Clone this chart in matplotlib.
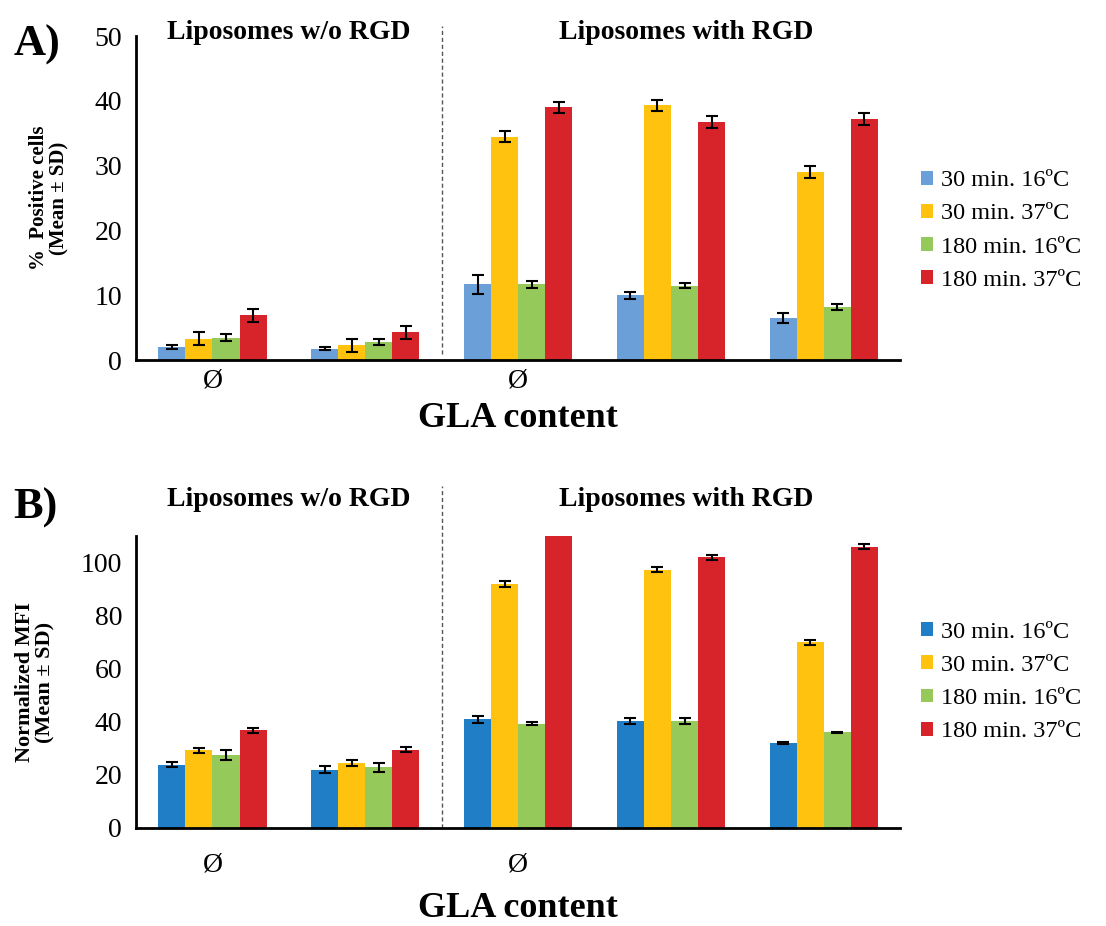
import matplotlib
matplotlib.use("Agg")
import matplotlib.pyplot as plt
import numpy as np

plt.rcParams['font.family'] = ['Liberation Serif', 'DejaVu Serif']

groups = ["Ø", "", "Ø", "", ""]
series = ["30 min. 16ºC", "30 min. 37ºC", "180 min. 16ºC", "180 min. 37ºC"]

# Panel A: % positive cells
a_30_16 = [2.1, 1.8, 11.7, 10.0, 6.5]
a_30_37 = [3.3, 2.3, 34.5, 39.3, 29.0]
a_180_16 = [3.5, 2.8, 11.7, 11.5, 8.2]
a_180_37 = [6.9, 4.3, 39.0, 36.7, 37.2]
a_err_30_16 = [0.3, 0.25, 1.5, 0.5, 0.8]
a_err_30_37 = [1.0, 1.0, 0.9, 0.9, 0.9]
a_err_180_16 = [0.5, 0.5, 0.5, 0.4, 0.4]
a_err_180_37 = [1.0, 1.0, 0.9, 0.9, 0.9]

# Panel B: normalized MFI
b_30_16 = [23.8, 22.0, 41.0, 40.3, 32.0]
b_30_37 = [29.2, 24.5, 92.0, 97.3, 70.0]
b_180_16 = [27.5, 22.8, 39.3, 40.3, 36.0]
b_180_37 = [36.8, 29.5, 115.0, 102.0, 106.0]
b_err_30_16 = [1.0, 1.5, 1.3, 1.0, 0.3]
b_err_30_37 = [1.0, 1.0, 1.0, 1.0, 1.0]
b_err_180_16 = [1.8, 1.8, 0.5, 1.0, 0.2]
b_err_180_37 = [1.0, 1.0, 1.0, 1.0, 1.0]

colors_a = ["#6a9fd8", "#ffc20e", "#95c95a", "#d7242a"]
colors_b = ["#1f7ec6", "#ffc20e", "#95c95a", "#d7242a"]

fig = plt.figure(figsize=(11.06, 9.26), dpi=100)
axA = fig.add_axes([0.123, 0.611, 0.691, 0.350])
axB = fig.add_axes([0.123, 0.106, 0.691, 0.315])

def draw(ax, vals, errs, colors, ylim, yticks, ylabel, ylsize, legy):
    x = np.arange(len(groups))
    w = 0.177
    offs = (np.arange(4) - 1.5) * w
    for i in range(4):
        ax.bar(x + offs[i], vals[i], w, color=colors[i], label=series[i], zorder=2)
        ax.errorbar(x + offs[i], vals[i], yerr=errs[i], fmt='none', ecolor='black',
                    elinewidth=1.5, capsize=4.5, capthick=1.5, zorder=3)
    ax.set_xlim(-0.5, len(groups) - 0.5)
    ax.set_ylim(*ylim)
    ax.set_yticks(yticks)
    ax.set_xticks(x)
    ax.set_xticklabels(groups, fontsize=20)
    for s in ["top", "right"]:
        ax.spines[s].set_visible(False)
    for s in ["left", "bottom"]:
        ax.spines[s].set_linewidth(2)
    ax.tick_params(axis='y', length=0, labelsize=20, pad=10)
    ax.tick_params(axis='x', length=0)
    ax.set_ylabel(ylabel, fontsize=ylsize, fontweight='bold', linespacing=1.05,
                  labelpad=18)
    ax.legend(loc='center left', bbox_to_anchor=(1.005, legy), frameon=False,
              fontsize=17.5, handlelength=0.5, handleheight=0.5,
              handletextpad=0.3, labelspacing=0.5, borderpad=0.2)

draw(axA, [a_30_16, a_30_37, a_180_16, a_180_37],
     [a_err_30_16, a_err_30_37, a_err_180_16, a_err_180_37],
     colors_a, (0, 50), [0, 10, 20, 30, 40, 50], "%  Positive cells\n(Mean ± SD)",
     15, 0.40)
axA.tick_params(axis='x', pad=6)
axA.set_xlabel("GLA content", fontsize=26, fontweight='bold', labelpad=6)

draw(axB, [b_30_16, b_30_37, b_180_16, b_180_37],
     [b_err_30_16, b_err_30_37, b_err_180_16, b_err_180_37],
     colors_b, (0, 110), [0, 20, 40, 60, 80, 100], "Normalized MFI\n(Mean ± SD)",
     16, 0.5)
axB.tick_params(axis='x', pad=18)
axB.set_xlabel("GLA content", fontsize=26, fontweight='bold', labelpad=10)

# dashed separators
axA.plot([1.5, 1.5], [1, 51.5], ls=(0, (3, 2)),
         color='#555555', lw=1, clip_on=False)
axB.plot([1.5, 1.5], [0, 129], ls=(0, (3, 2)),
         color='#555555', lw=1, clip_on=False)

# headers
axA.text(0.5, 50.6, "Liposomes w/o RGD", ha='center', va='center',
         fontsize=20, fontweight='bold')
axA.text(3.1, 50.6, "Liposomes with RGD", ha='center', va='center',
         fontsize=20, fontweight='bold')
axB.text(0.5, 124.0, "Liposomes w/o RGD", ha='center', va='center',
         fontsize=20, fontweight='bold', clip_on=False)
axB.text(3.1, 124.0, "Liposomes with RGD", ha='center', va='center',
         fontsize=20, fontweight='bold', clip_on=False)

fig.text(0.012, 0.952, "A)", fontsize=32, fontweight='bold', va='center')
fig.text(0.012, 0.452, "B)", fontsize=32, fontweight='bold', va='center')

fig.savefig("out.png", dpi=100, facecolor='white')
